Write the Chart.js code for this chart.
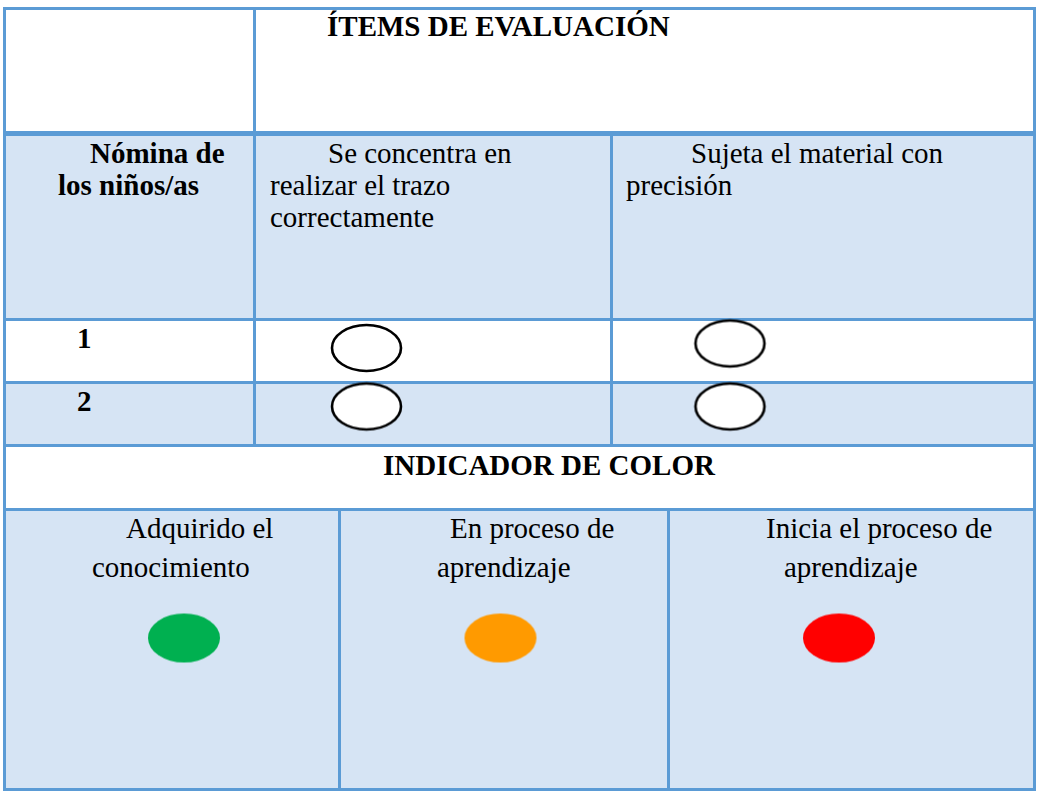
<!DOCTYPE html>
<html>
<head>
<meta charset="utf-8">
<script src="https://cdn.jsdelivr.net/npm/chart.js@4.4.1/dist/chart.umd.min.js"></script>
<style>
  html,body{margin:0;padding:0;background:#fff;}
  #page{position:relative;width:1037px;height:793px;overflow:hidden;font-family:"Liberation Serif","Times New Roman",serif;color:#000;}
  .ln{position:absolute;background:#5b9bd5;}
  .fill{position:absolute;background:#d6e4f4;}
  .t{position:absolute;font-size:29px;line-height:32px;white-space:pre;}
  .b{font-weight:bold;}
  #cv{position:absolute;left:0;top:0;pointer-events:none;}
</style>
</head>
<body>
<div id="page"></div>
<script>
// ---- data ----
const headerTitle = 'ÍTEMS DE EVALUACIÓN';
const nameHeader = ['Nómina de', 'los niños/as'];
const items = [
  ['Se concentra en', 'realizar el trazo', 'correctamente'],
  ['Sujeta el material con', 'precisión']
];
const students = ['1', '2'];
// '' = empty (not yet evaluated) mark
const studentMarks = [['', ''], ['', '']];
const indicatorTitle = 'INDICADOR DE COLOR';
const indicatorLabels = [
  ['Adquirido el', 'conocimiento'],
  ['En proceso de', 'aprendizaje'],
  ['Inicia el proceso de', 'aprendizaje']
];
const indicatorColors = ['#00b050', '#ff9a00', '#ff0000'];

// ---- layout (pixels) ----
const page = document.getElementById('page');
function box(cls, l, t, w, h) { const d = document.createElement('div'); d.className = cls; Object.assign(d.style, {left: l+'px', top: t+'px', width: w+'px', height: h+'px'}); page.appendChild(d); return d; }
function text(str, l, baseline, bold) { const d = document.createElement('div'); d.className = 't' + (bold ? ' b' : ''); d.textContent = str; d.style.left = l + 'px'; d.style.top = (baseline - 26) + 'px'; page.appendChild(d); return d; }

// fills
box('fill', 6, 136, 1027, 182);
box('fill', 6, 384, 1027, 60);
box('fill', 6, 511, 1027, 277);
// horizontal lines
const hLines = [[7,3],[131,5],[318,3],[381,3],[444,3],[508,3],[788,3]];
hLines.forEach(([y,h]) => box('ln', 3, y, 1033, h));
// vertical lines
box('ln', 3, 7, 3, 784);
box('ln', 1033, 7, 3, 784);
box('ln', 253, 7, 3, 440);
box('ln', 610, 131, 3, 316);
box('ln', 338, 508, 3, 283);
box('ln', 667, 508, 3, 283);

// texts
text(headerTitle, 327, 36, true);
text(nameHeader[0], 90, 163, true);
text(nameHeader[1], 58, 195, true);
const itemX = [[328, 270, 270], [691, 626]];
items.forEach((lines, i) => lines.forEach((s, j) => text(s, itemX[i][j], 163 + j * 32, false)));
const studentBase = [348, 411];
students.forEach((s, i) => text(s, 77, studentBase[i], true));
text(indicatorTitle, 383, 475, true);
const indX = [[126, 92], [450, 437], [766, 784]];
indicatorLabels.forEach((lines, i) => lines.forEach((s, j) => text(s, indX[i][j], 538 + j * 39, false)));

// mark anchor positions inside the table (layout)
const itemMarkX = [366.5, 730];
const studentMarkY = [[348, 406.5], [343.5, 406.5]];
const indicatorMarkX = [184, 500.5, 839];
const indicatorMarkY = 638;

// ---- ellipse point styles ----
function ellipseImg(fill, stroke, w, h, lw) {
  const c = document.createElement('canvas');
  c.width = w + 6; c.height = h + 6;
  const g = c.getContext('2d');
  g.beginPath();
  g.ellipse(c.width / 2, c.height / 2, w / 2, h / 2, 0, 0, Math.PI * 2);
  g.fillStyle = fill; g.fill();
  if (stroke) { g.lineWidth = lw; g.strokeStyle = stroke; g.stroke(); }
  return c;
}
const emptyMark = ellipseImg('#ffffff', '#000000', 69, 46, 2.6);

const studentPts = [];
students.forEach((s, r) => items.forEach((it, c) => {
  studentPts.push({x: itemMarkX[c], y: studentMarkY[c][r], mark: studentMarks[r][c]});
}));
const indicatorPts = indicatorColors.map((col, i) => ({x: indicatorMarkX[i], y: indicatorMarkY}));

const cv = document.createElement('canvas');
cv.id = 'cv'; cv.width = 1037; cv.height = 793;
cv.style.width = '1037px'; cv.style.height = '793px';
page.appendChild(cv);

new Chart(cv, {
  type: 'scatter',
  data: {
    datasets: [
      {label: 'Evaluación', data: studentPts, pointStyle: emptyMark, pointRadius: 35, clip: false},
      {label: 'Indicador', data: indicatorPts,
       pointStyle: indicatorColors.map(col => ellipseImg(col, null, 72, 49, 0)), pointRadius: 36, clip: false}
    ]
  },
  options: {
    responsive: false,
    animation: false,
    events: [],
    layout: {padding: 0, autoPadding: false},
    plugins: {legend: {display: false}, tooltip: {enabled: false}},
    scales: {
      x: {type: 'linear', min: 0, max: 1037, display: false},
      y: {type: 'linear', min: 0, max: 793, reverse: true, display: false}
    }
  }
});
</script>
</body>
</html>
